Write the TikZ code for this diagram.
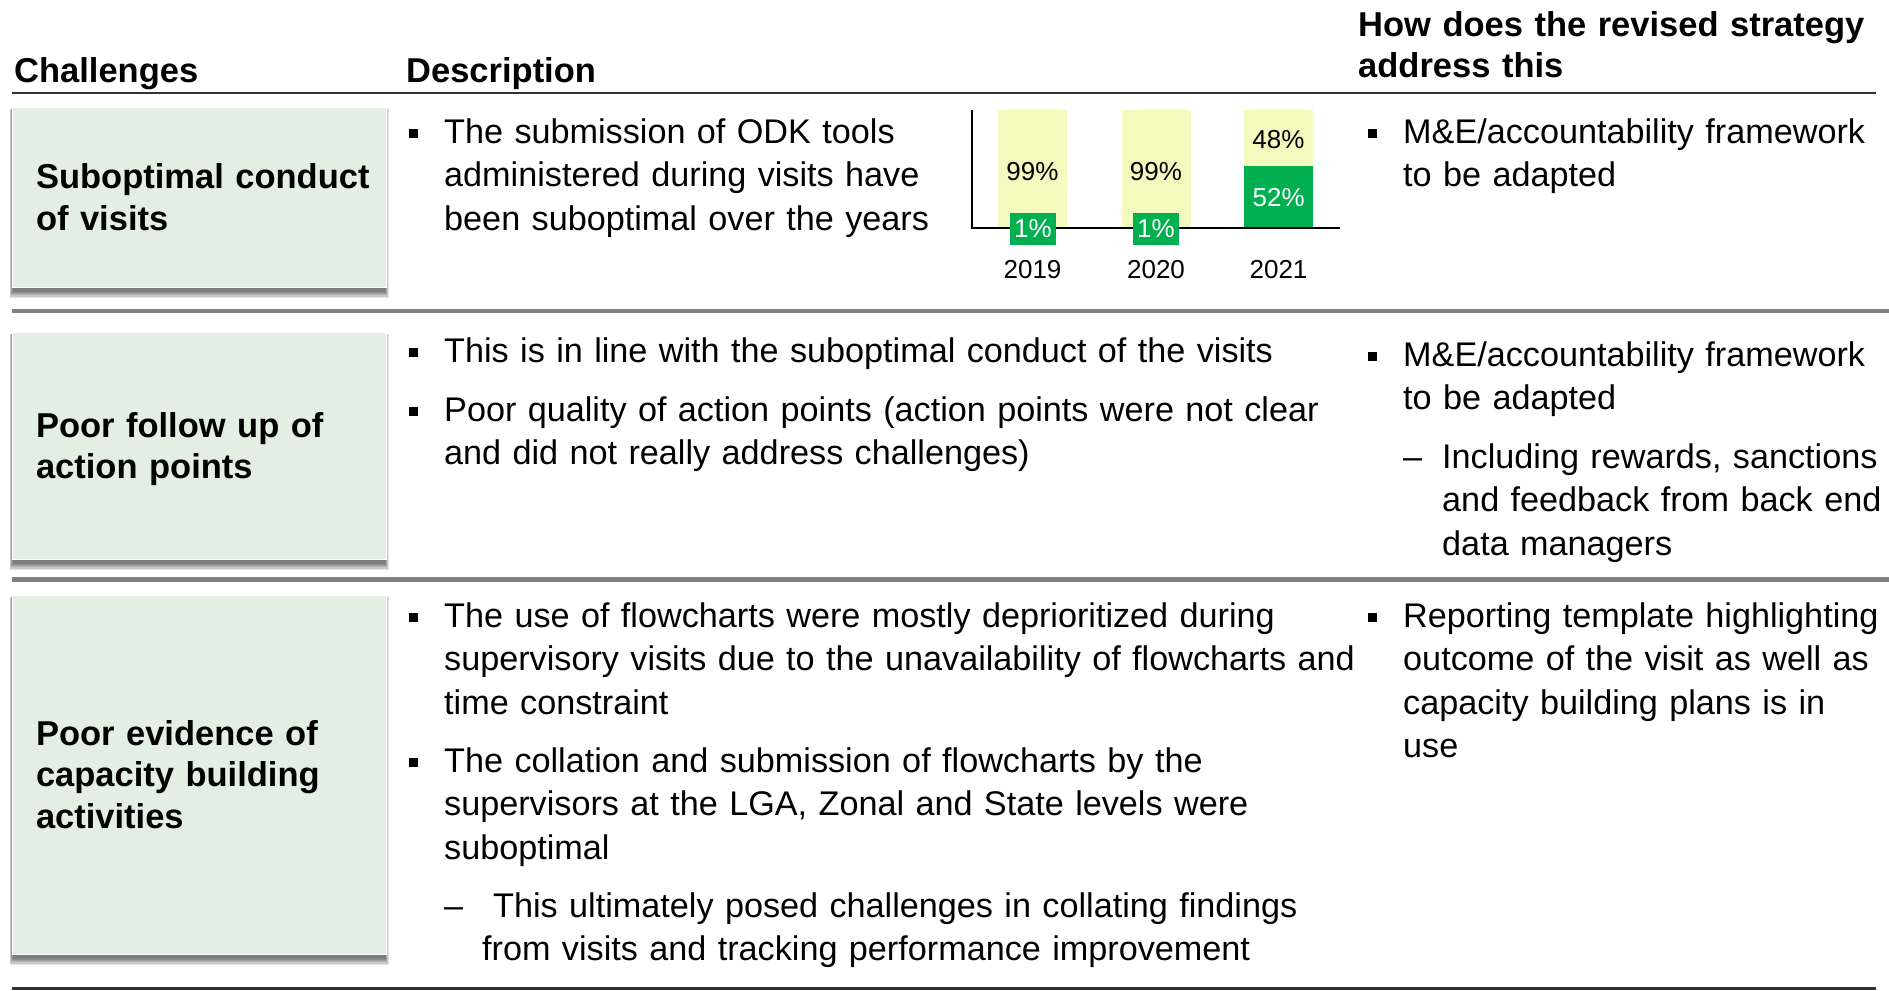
\documentclass[tikz,border=0pt]{standalone}
\usepackage{fontspec}
\setmainfont{Liberation Sans}
\usetikzlibrary{backgrounds}

\definecolor{boxgreen}{RGB}{226,239,226}
\definecolor{barlight}{RGB}{244,249,190}
\definecolor{bargreen}{RGB}{0,176,80}
\definecolor{rulegray}{RGB}{128,128,128}

\tikzset{
  card/.style={fill=boxgreen, draw=white, line width=1pt, align=left,
    text width=326pt, inner xsep=24pt, inner ysep=0pt, minimum width=374pt,
    font=\bfseries\fontsize{34.5}{41.5}\selectfont},
  head/.style={anchor=base west, inner sep=0pt, align=left, text width=530pt,
    font=\bfseries\fontsize{34.5}{41}\selectfont},
  body/.style={anchor=base west, inner sep=0pt, align=left, text width=1100pt,
    font=\fontsize{34.2}{43.5}\selectfont},
  bul/.style={fill=black, minimum size=9pt, inner sep=0pt},
  dashmark/.style={anchor=base west, inner sep=0pt, font=\fontsize{34.2}{43.5}\selectfont},
  barbg/.style={fill=barlight, anchor=north west, inner sep=0pt, minimum width=69pt},
  barfg/.style={fill=bargreen, text=white, inner sep=0pt, font=\fontsize{26}{30}\selectfont},
  pct/.style={font=\fontsize{26}{30}\selectfont, inner sep=0pt},
}

% bullet item: name, base point, text
\newcommand\bitem[3]{%
  \node[bul] (#1b) at ([shift={(-31,-10)}]#2) {};
  \node[body] (#1) at (#2) {#3};}
% dash item: name, dash point, text point, text
\newcommand\ditem[4]{%
  \node[dashmark] (#1d) at (#2) {--};
  \node[body] (#1) at (#3) {#4};}

\begin{document}
\begin{tikzpicture}[x=1pt, y=-1pt]
\useasboundingbox (0,0) rectangle (1889,990);

% headers
\node[head] (hc) at (14,82.5) {Challenges};
\node[head] (hd) at (406,82.5) {Description};
\node[head] (hs) at (1358,37) {How does the revised strategy\\address this};
\draw[line width=2.5pt, black!80] (12,93) -- (1876,93);

% challenge boxes
\node[card, minimum height=180pt] (c1) at (199,197) {\mbox{Suboptimal conduct}\\of visits};
\node[card, minimum height=227pt] (c2) at (199,445.5) {Poor follow up of\\\smash{action points}};
\node[card, minimum height=359pt] (c3) at (199,774.5) {Poor evidence of\\capacity building\\activities};

\begin{scope}[on background layer]
  \foreach \n in {c1,c2,c3}
    \foreach \k in {0,...,5}
      \fill[black, opacity=.11] ([shift={(1-0.6*\k,2)}]\n.north west)
        rectangle ([shift={(0.6*\k-1,4+1.3*\k)}]\n.south east);
\end{scope}

% row 1
\bitem{d1}{444,143}{The submission of ODK tools\\administered during visits have\\been suboptimal over the years}
\bitem{s1}{1403,143}{M\&E/accountability framework\\to be adapted}

% chart
\node[barbg, minimum height=118pt] (y19) at (998,110) {};
\node[barbg, minimum height=118pt] (y20) at (1122,110) {};
\node[barbg, minimum height=56pt] (y21) at (1244,110) {};
\node[barfg, anchor=north west, minimum width=69pt, minimum height=62pt] (g21) at (1244,166) {52\%};
\draw[line width=2pt] (972,110) -- (972,228) -- (1340,228);
\node[barfg, minimum width=46pt, minimum height=32pt] (g19) at (1033,229) {1\%};
\node[barfg, minimum width=46pt, minimum height=32pt] (g20) at (1156,229) {1\%};
\node[pct] (p19) at (1032.5,172) {99\%};
\node[pct] (p20) at (1156,172) {99\%};
\node[pct] (p21) at (1278.5,140) {48\%};
\node[pct] (l19) at (1032.5,270) {2019};
\node[pct] (l20) at (1156,270) {2020};
\node[pct] (l21) at (1278.5,270) {2021};

\draw[line width=4.5pt, rulegray] (12,311) -- (1889,311);

% row 2
\bitem{d2}{444,362}{This is in line with the suboptimal conduct of the visits}
\bitem{d3}{444,421}{Poor quality of action points (action points were not clear\\and did not really address challenges)}
\bitem{s2}{1403,366}{M\&E/accountability framework\\to be adapted}
\ditem{s3}{1403,468}{1442,468}{Including rewards, sanctions\\and feedback from back end\\data managers}

\draw[line width=4.5pt, rulegray] (12,579.5) -- (1889,579.5);

% row 3
\bitem{d4}{444,627}{The use of flowcharts were mostly deprioritized during\\supervisory visits due to the unavailability of flowcharts and\\time constraint}
\bitem{d5}{444,772}{The collation and submission of flowcharts by the\\supervisors at the LGA, Zonal and State levels were\\suboptimal}
\ditem{d6}{444,917}{482,917}{\hspace*{11pt}This ultimately posed challenges in collating findings\\from visits and tracking performance improvement}
\bitem{s4}{1403,627}{Reporting template highlighting\\outcome of the visit as well as\\capacity building plans is in\\use}

\draw[line width=3pt, black!80] (12,988) -- (1876,988);
\end{tikzpicture}
\end{document}
